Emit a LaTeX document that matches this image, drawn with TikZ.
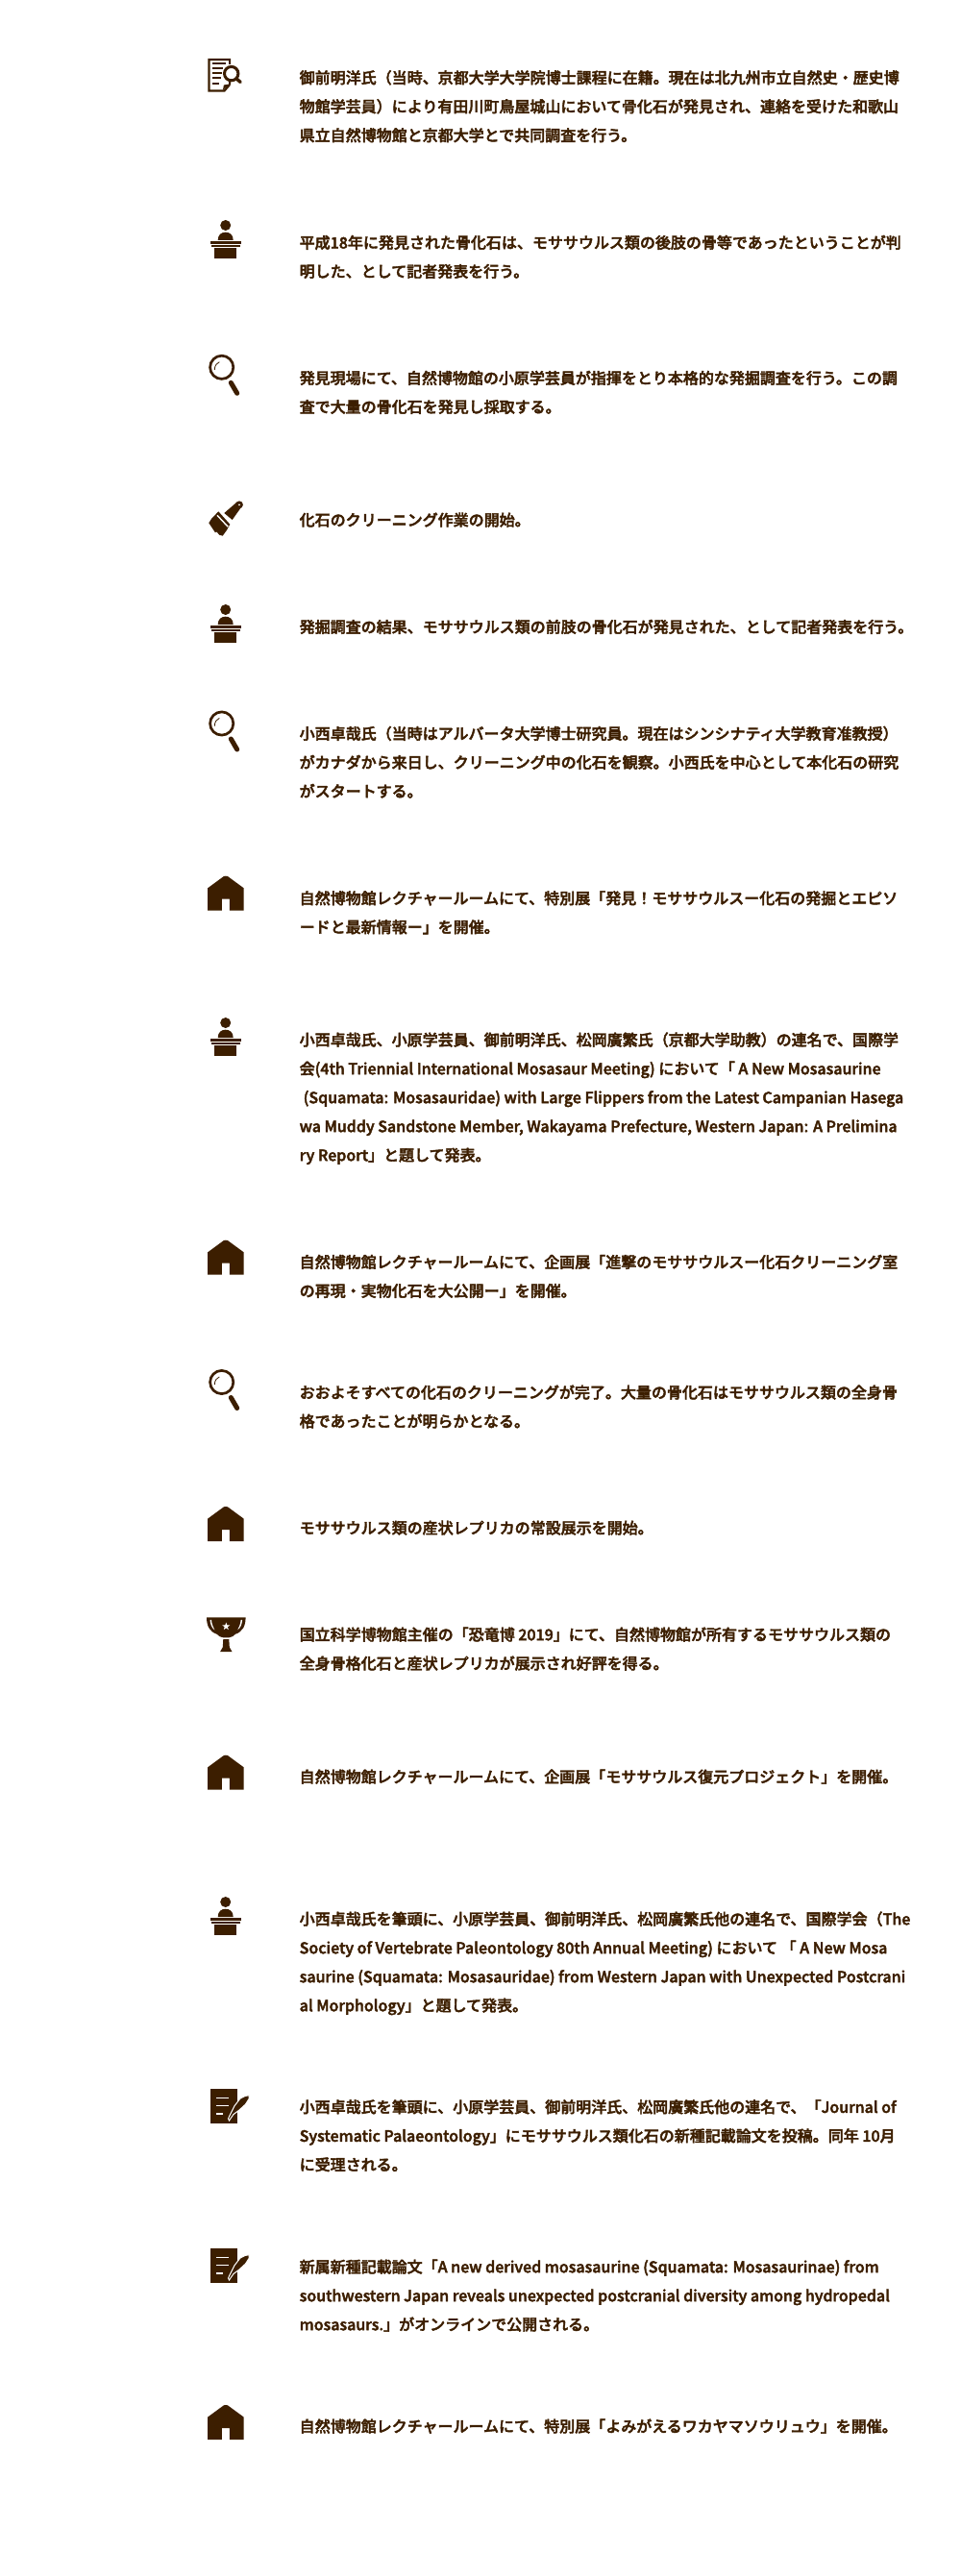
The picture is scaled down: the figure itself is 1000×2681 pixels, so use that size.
\documentclass[tikz,border=0pt]{standalone}
\usepackage{fontspec}
\setmainfont{Noto Sans CJK JP Medium}[FakeBold=2.5]
\definecolor{bark}{HTML}{3C1E00}
\tikzset{
  entry/.style={anchor=north west, inner sep=0pt, align=left, text=bark, font=\fontsize{16}{30}\selectfont},
  solid fill/.style={fill=bark, draw=none},
  house/.pic={
    \fill[solid fill] (-18.75,36) -- (-18.75,12.6) -- (-2,0.3) -- (0,0) -- (2,0.3) -- (18.75,12.6) -- (18.75,36) -- (4,36) -- (4,24) -- (-4,24) -- (-4,36) -- cycle;
  },
  podium/.pic={
    \fill[solid fill] (0,5.5) circle [radius=5.5];
    \fill[solid fill] (-8,21) .. controls (-8,15) and (-4,12.7) .. (0,12.7) .. controls (4,12.7) and (8,15) .. (8,21) -- cycle;
    \fill[solid fill] (-15.8,21.7) rectangle (15.8,24.7);
    \fill[solid fill] (-14.8,25.7) rectangle (14.8,27.7);
    \fill[solid fill] (-11.7,28.7) rectangle (11.7,40);
  },
  lens/.pic={
    \draw[bark, line width=2.7] (0,0) circle [radius=12.1];
    \draw[bark, line width=0.8] (-7.4,2.7) .. controls (-7.4,-2) and (-5,-4.5) .. (-2.4,-5.6);
    \draw[bark, line width=5, line cap=round] (9.6,16) -- (16,27);
  },
  brush/.pic={
    \fill[solid fill] (-7.7,10.3) -- (4.3,23.7) -- (1,29.7) -- (-3.3,35.7) -- (-6.7,34.7) -- (-9.7,31.3) -- (-11,32.3) -- (-17.7,22.3) -- (-15,18) -- cycle;
    \fill[solid fill] (-1.7,12) -- (6.7,19) -- (15.7,6.3) -- (11,1) -- cycle;
    \fill[solid fill] (14,3.3) circle [radius=3.9];
    \fill[white] (14,3.3) circle [radius=1];
    \draw[white, line width=1.4] (-9,14.3) -- (2.3,26.3);
  },
  cup/.pic={
    \fill[solid fill] (-20.3,0) -- (20.3,0) .. controls (20.3,9) and (17,15) .. (9.5,17.5) .. controls (8,19.5) and (6,20.5) .. (3,21) -- (-3,21) .. controls (-6,20.5) and (-8,19.5) .. (-9.5,17.5) .. controls (-17,15) and (-20.3,9) .. (-20.3,0) -- cycle;
    \fill[white] (-16.8,2.5) .. controls (-16.5,7) and (-15,11) .. (-12,13) .. controls (-13.5,10) and (-15,7) .. (-15.3,2.5) -- cycle;
    \fill[white] (16.8,2.5) .. controls (16.5,7) and (15,11) .. (12,13) .. controls (13.5,10) and (15,7) .. (15.3,2.5) -- cycle;
    \fill[white, shift={(0,9.4)}] (0,-4.2) -- (1,-1.38) -- (4,-1.3) -- (1.62,0.53) -- (2.47,3.4) -- (0,1.7) -- (-2.47,3.4) -- (-1.62,0.53) -- (-4,-1.3) -- (-1,-1.38) -- cycle;
    \fill[solid fill] (-3,22.7) -- (3,22.7) -- (3.5,31) -- (6.2,35.7) -- (-6.2,35.7) -- (-3.5,31) -- cycle;
  },
  quill/.pic={
    \fill[solid fill] (0,0) rectangle (27.7,36);
    \foreach \ly/\lx in {9.3/18.7, 17.7/18.7, 26/13} {
      \draw[white, line width=1.3] (6,\ly) -- (\lx,\ly);
    }
    \filldraw[fill=bark, draw=white, line width=1] (31,10) -- (36,7.5) -- (40,6.7) -- (40.3,10) -- (36.5,16) -- (30,22) -- (24,26.5) -- (21.5,30) -- (19.5,33) -- (18.5,31) -- (20,27.7) -- (25,17.7) -- cycle;
  },
  report/.pic={
    \draw[bark, line width=2.2] (22.7,27) -- (22.7,24) (22.7,6) -- (22.7,1.1) -- (1.1,1.1) -- (1.1,33.6) -- (17,33.6) -- (22.7,27);
    \fill[solid fill] (15.5,33) -- (16.5,27.5) -- (22.7,26.5) -- cycle;
    \foreach \ly/\lx in {5.5/19, 10.2/16, 14.9/14.5, 19.6/13.5, 26.5/12} {
      \draw[bark, line width=2] (4.6,\ly) -- (\lx,\ly);
    }
    \draw[bark, fill=white, line width=3] (24.3,15.6) circle [radius=7.2];
    \draw[bark, line width=3.4, line cap=round] (29.6,20.8) -- (33.8,24.5);
  }
}
\begin{document}
\begin{tikzpicture}[x=1pt, y=-1pt]
  \useasboundingbox (0,0) rectangle (1000,2681);
  \pic at (216.4,61) {report};
  \pic at (234.7,229) {podium};
  \pic at (230.7,382.3) {lens};
  \pic at (235,522) {brush};
  \pic at (234.7,629) {podium};
  \pic at (230.7,753) {lens};
  \pic at (234.9,911.7) {house};
  \pic at (234.7,1059) {podium};
  \pic at (234.9,1290.7) {house};
  \pic at (230.7,1438.5) {lens};
  \pic at (234.9,1568) {house};
  \pic at (235.3,1683.3) {cup};
  \pic at (234.9,1826.7) {house};
  \pic at (234.7,1974) {podium};
  \pic at (219,2174) {quill};
  \pic at (219,2340) {quill};
  \pic at (234.9,2503) {house};
  \node[entry] (t1) at (311.5,65.7) {\strut 御前明洋氏（当時、京都大学大学院博士課程に在籍。現在は北九州市立自然史・歴史博\\物館学芸員）により有田川町鳥屋城山において骨化石が発見され、連絡を受けた和歌山\\県立自然博物館と京都大学とで共同調査を行う。};
  \node[entry] (t2) at (311.5,237.3) {\strut 平成18年に発見された骨化石は、モササウルス類の後肢の骨等であったということが判\\明した、として記者発表を行う。};
  \node[entry] (t3) at (311.5,378.3) {\strut 発見現場にて、自然博物館の小原学芸員が指揮をとり本格的な発掘調査を行う。この調\\査で大量の骨化石を発見し採取する。};
  \node[entry] (t4) at (311.5,526) {\strut 化石のクリーニング作業の開始。};
  \node[entry] (t5) at (311.5,637.3) {\strut 発掘調査の結果、モササウルス類の前肢の骨化石が発見された、として記者発表を行う。};
  \node[entry] (t6) at (311.5,748.3) {\strut 小西卓哉氏（当時はアルバータ大学博士研究員。現在はシンシナティ大学教育准教授）\\がカナダから来日し、クリーニング中の化石を観察。小西氏を中心として本化石の研究\\がスタートする。};
  \node[entry] (t7) at (311.5,919.7) {\strut 自然博物館レクチャールームにて、特別展「発見！モササウルスー化石の発掘とエピソ\\ードと最新情報ー」を開催。};
  \node[entry] (t8) at (311.5,1067) {\strut 小西卓哉氏、小原学芸員、御前明洋氏、松岡廣繁氏（京都大学助教）の連名で、国際学\\会(4th Triennial International Mosasaur Meeting) において「 A New Mosasaurine\\\hspace*{4pt}(Squamata: Mosasauridae) with Large Flippers from the Latest Campanian Hasega\\wa Muddy Sandstone Member, Wakayama Prefecture, Western Japan: A Prelimina\\ry Report」と題して発表。};
  \node[entry] (t9) at (311.5,1298.3) {\strut 自然博物館レクチャールームにて、企画展「進撃のモササウルスー化石クリーニング室\\の再現・実物化石を大公開ー」を開催。};
  \node[entry] (t10) at (311.5,1434) {\strut おおよそすべての化石のクリーニングが完了。大量の骨化石はモササウルス類の全身骨\\格であったことが明らかとなる。};
  \node[entry] (t11) at (311.5,1575) {\strut モササウルス類の産状レプリカの常設展示を開始。};
  \node[entry] (t12) at (311.5,1686) {\strut 国立科学博物館主催の「恐竜博 2019」にて、自然博物館が所有するモササウルス類の\\全身骨格化石と産状レプリカが展示され好評を得る。};
  \node[entry] (t13) at (311.5,1834) {\strut 自然博物館レクチャールームにて、企画展「モササウルス復元プロジェクト」を開催。};
  \node[entry] (t14) at (311.5,1982) {\strut 小西卓哉氏を筆頭に、小原学芸員、御前明洋氏、松岡廣繁氏他の連名で、国際学会（The\\Society of Vertebrate Paleontology 80th Annual Meeting) において 「 A New Mosa\\saurine (Squamata: Mosasauridae) from Western Japan with Unexpected Postcrani\\al Morphology」と題して発表。};
  \node[entry] (t15) at (311.5,2177.7) {\strut 小西卓哉氏を筆頭に、小原学芸員、御前明洋氏、松岡廣繁氏他の連名で、「Journal of\\Systematic Palaeontology」にモササウルス類化石の新種記載論文を投稿。同年 10月\\に受理される。};
  \node[entry] (t16) at (311.5,2344) {\strut 新属新種記載論文「A new derived mosasaurine (Squamata: Mosasaurinae) from\\southwestern Japan reveals unexpected postcranial diversity among hydropedal\\mosasaurs.」がオンラインで公開される。};
  \node[entry] (t17) at (311.5,2510) {\strut 自然博物館レクチャールームにて、特別展「よみがえるワカヤマソウリュウ」を開催。};
\end{tikzpicture}
\end{document}
